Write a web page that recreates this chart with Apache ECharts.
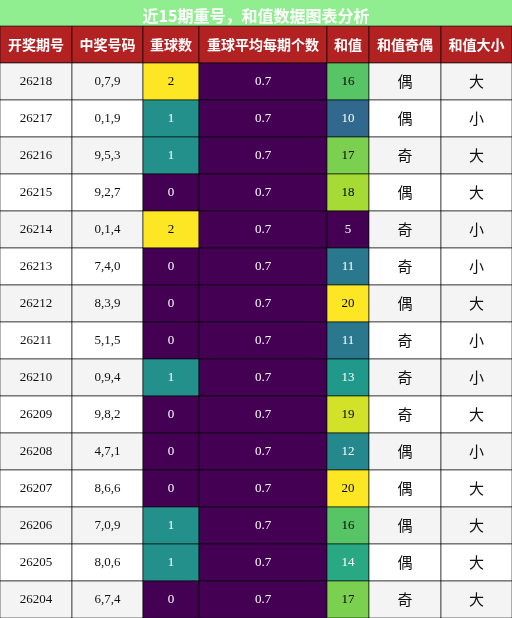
<!DOCTYPE html>
<html><head><meta charset="utf-8">
<script src="https://cdn.jsdelivr.net/npm/echarts@6/dist/echarts.min.js"></script>
<style>html,body{margin:0;padding:0;}#c{width:512px;height:618px;}</style>
</head><body><div id="c"></div>
<script>
const headers = ['开奖期号','中奖号码','重球数','重球平均每期个数','和值','和值奇偶','和值大小'];
const issues = ['26218','26217','26216','26215','26214','26213','26212','26211','26210','26209','26208','26207','26206','26205','26204'];
const numbers = ['0,7,9','0,1,9','9,5,3','9,2,7','0,1,4','7,4,0','8,3,9','5,1,5','0,9,4','9,8,2','4,7,1','8,6,6','7,0,9','8,0,6','6,7,4'];
const repeats = [2,1,1,0,2,0,0,0,1,0,0,0,1,1,0];
const avgRepeat = [0.7,0.7,0.7,0.7,0.7,0.7,0.7,0.7,0.7,0.7,0.7,0.7,0.7,0.7,0.7];
const sums = [16,10,17,18,5,11,20,11,13,19,12,20,16,14,17];
const parity = ['偶','偶','奇','偶','奇','奇','偶','奇','奇','奇','偶','偶','偶','偶','奇'];
const size = ['大','小','大','大','小','小','大','小','小','大','小','大','大','大','大'];

const colEdges = [0,72,143,199,327,369,441,512];
const vir = [[68,1,84],[72,40,120],[62,74,137],[49,104,142],[38,130,142],[31,158,137],[53,183,121],[109,205,89],[180,222,44],[253,231,37]];
function viridis(t){t=Math.max(0,Math.min(1,t));const p=t*(vir.length-1);const i=Math.min(Math.floor(p),vir.length-2);const f=p-i;
 const c=vir[i].map((v,k)=>Math.round(v+(vir[i+1][k]-v)*f));return c;}
function rgb(c){return 'rgb('+c.join(',')+')';}
function txtCol(c){const l=0.299*c[0]+0.587*c[1]+0.114*c[2];return l>140?'#000':'#fff';}

const cells=[];
headers.forEach((h,ci)=>cells.push([ci,0,h,'#B22222','#fff',true,false]));
const sMin=Math.min(...sums), sMax=Math.max(...sums);
issues.forEach((is,r)=>{
  const row=r+1; const bg=r%2===0?'#f4f4f4':'#ffffff';
  cells.push([0,row,is,bg,'#111',false,false]);
  cells.push([1,row,numbers[r],bg,'#111',false,false]);
  let c=viridis(repeats[r]/2); cells.push([2,row,String(repeats[r]),rgb(c),txtCol(c),false,false]);
  c=viridis(0); cells.push([3,row,String(avgRepeat[r]),rgb(c),'#fff',false,false]);
  c=viridis((sums[r]-sMin)/(sMax-sMin)); cells.push([4,row,String(sums[r]),rgb(c),txtCol(c),false,false]);
  cells.push([5,row,parity[r],bg,'#111',false,true]);
  cells.push([6,row,size[r],bg,'#111',false,true]);
});
const rows=['h'].concat(issues);
const chart=echarts.init(document.getElementById('c'));
chart.setOption({
  animation:false,
  title:{text:'近15期重号，和值数据图表分析',left:'center',top:3,textStyle:{color:'#fff',fontSize:16,fontWeight:'bold',fontFamily:'Noto Sans CJK SC'}},
  graphic:[{type:'rect',shape:{x:0,y:0,width:512,height:26},style:{fill:'#90EE90'},z:-1}],
  grid:{left:0,right:0,top:26,bottom:0},
  xAxis:{type:'value',min:0,max:512,show:false},
  yAxis:{type:'category',data:rows,inverse:true,show:false},
  series:[{type:'custom',data:cells,renderItem:function(params,api){
    const ci=api.value(0), row=api.value(1), d=cells[params.dataIndex];
    const x0=api.coord([colEdges[ci],row])[0], x1=api.coord([colEdges[ci+1],row])[0];
    const bw=api.size([0,1])[1]; const yc=api.coord([0,row])[1];
    return {type:'group',children:[
      {type:'rect',shape:{x:x0,y:yc-bw/2,width:x1-x0,height:bw},style:{fill:d[3],stroke:'#000',lineWidth:0.6}},
      {type:'text',style:{x:(x0+x1)/2,y:yc,text:d[2],fill:d[4],align:'center',verticalAlign:'middle',
        fontSize:d[5]?14:(d[6]?15:13),fontWeight:d[5]?'bold':'normal',
        fontFamily:(d[5]||d[6])?'Noto Sans CJK SC':'Liberation Serif'}}
    ]};
  }}]
});
</script></body></html>
